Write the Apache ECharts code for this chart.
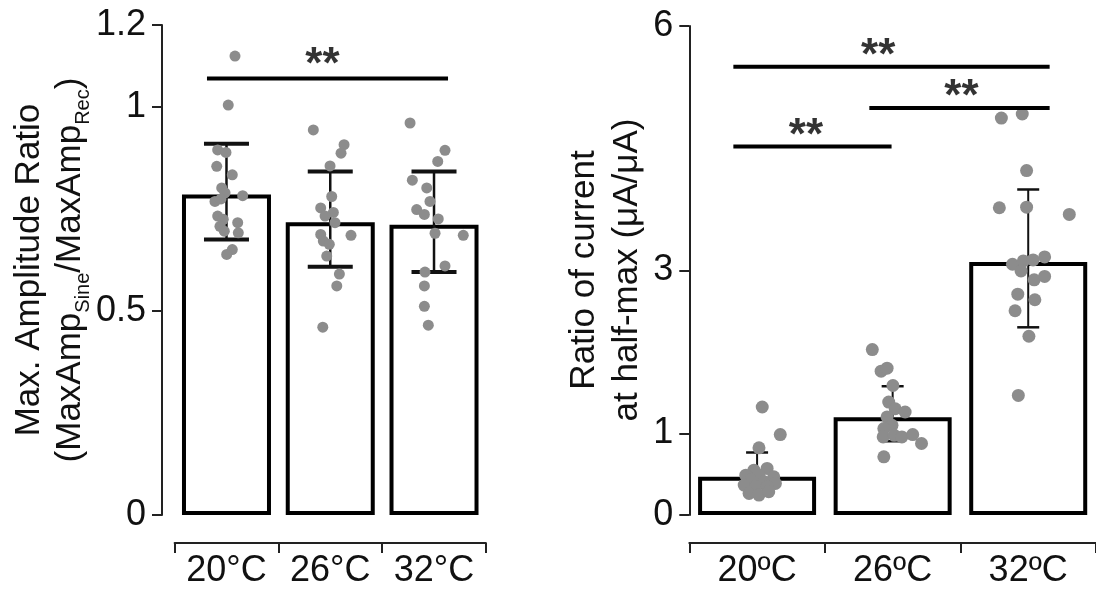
<!DOCTYPE html>
<html>
<head>
<meta charset="utf-8">
<script src="https://cdn.jsdelivr.net/npm/echarts@6/dist/echarts.min.js"></script>
<style>
html,body{margin:0;padding:0;background:#fff;}
#chart{width:1096px;height:589px;}
</style>
</head>
<body>
<div id="chart"></div>
<script>
// ---------- data ----------
const categoriesLeft = ['20°C', '26°C', '32°C'];
const categoriesRight = ['20ºC', '26ºC', '32ºC'];

const ampTicks = [0, 0.5, 1, 1.2];
const ampMean = [0.785, 0.717, 0.711];
const ampLow = [0.675, 0.608, 0.595];
const ampHigh = [0.909, 0.841, 0.841];
// [jitter offset within category, value]
const amp20 = [[0.082,1.124],[0.017,1.004],[-0.085,0.894],[-0.005,0.888],[-0.094,0.854],[0.056,0.833],[-0.046,0.801],[-0.014,0.789],[0.156,0.782],[-0.111,0.768],[-0.053,0.774],[-0.085,0.732],[-0.031,0.724],[-0.063,0.707],[0.108,0.716],[0.114,0.691],[-0.021,0.695],[0.056,0.650],[0.002,0.638]];
const amp26 = [[-0.163,0.943],[0.133,0.907],[0.104,0.886],[-0.002,0.855],[0.014,0.780],[-0.092,0.752],[0.030,0.741],[-0.050,0.732],[0.046,0.716],[-0.092,0.687],[0.200,0.685],[-0.067,0.671],[-0.009,0.663],[-0.034,0.634],[0.088,0.590],[0.063,0.561],[-0.072,0.460]];
const amp32 = [[-0.231,0.960],[0.106,0.893],[0.036,0.866],[-0.209,0.820],[-0.070,0.801],[-0.039,0.768],[-0.167,0.748],[-0.093,0.736],[0.041,0.725],[0.010,0.690],[0.282,0.685],[0.106,0.610],[-0.087,0.595],[-0.093,0.561],[-0.093,0.511],[-0.055,0.465]];

const ratioTicks = [0, 1, 3, 6];
const ratioMean = [0.469, 1.20, 3.105];
const ratioLow = [0.253, 0.905, 2.303];
const ratioHigh = [0.767, 1.58, 3.994];
const ratio20 = [[0.038,1.325],[0.171,0.987],[0.014,0.824],[-0.023,0.55],[0.074,0.571],[-0.083,0.489],[0.014,0.489],[0.123,0.469],[-0.047,0.428],[0.05,0.408],[0.135,0.388],[-0.095,0.367],[-0.01,0.347],[0.074,0.347],[-0.059,0.265],[0.014,0.245],[0.086,0.286]];
const ratio26 = [[-0.150,2.03],[-0.085,1.765],[-0.041,1.802],[0.002,1.589],[-0.029,1.386],[0.019,1.304],[0.092,1.264],[-0.041,1.203],[-0.005,1.100],[-0.065,1.060],[-0.07,0.958],[0.012,0.978],[0.068,0.958],[0.148,0.987],[0.213,0.877],[-0.065,0.714]];
const ratio32 = [[-0.198,4.87],[-0.044,4.92],[-0.012,4.226],[-0.213,3.77],[-0.012,3.777],[0.303,3.688],[-0.116,3.077],[-0.036,3.117],[0.036,3.130],[0.121,3.166],[-0.053,2.995],[0.044,2.885],[0.121,2.927],[-0.077,2.710],[0.049,2.641],[-0.097,2.506],[0.005,2.193],[-0.073,1.467]];

// significance brackets: [from category pos, to category pos, level], label [pos, level]
const sigLeftLines = [[-0.188, 2.135, 1.069]];
const sigLeftLabels = [[0.925, 1.10]];
const sigRightLines = [[-0.175, 2.158, 5.50], [0.828, 2.158, 4.995], [-0.175, 0.992, 4.52]];
const sigRightLabels = [[0.893, 5.62], [1.507, 5.12], [0.36, 4.64]];
const sigText = '**';

// ---------- helpers ----------
const FONT = "'Liberation Sans', Arial, Helvetica, sans-serif";
const INK = '#111';
const DOT = '#8c8c8c';

function dots(groups) {
  const out = [];
  groups.forEach((g, i) => g.forEach(p => out.push([i + p[0], p[1]])));
  return out;
}
function errData(lo, hi) { return lo.map((l, i) => [i, l, hi[i]]); }
function errRender(capW, capLw, stemLw) {
  return function (params, api) {
    const x = api.value(0);
    const a = api.coord([x, api.value(1)]);
    const b = api.coord([x, api.value(2)]);
    return {
      type: 'group',
      children: [
        { type: 'line', shape: { x1: a[0], y1: a[1], x2: b[0], y2: b[1] }, style: { stroke: INK, lineWidth: stemLw } },
        { type: 'line', shape: { x1: a[0] - capW / 2, y1: a[1], x2: a[0] + capW / 2, y2: a[1] }, style: { stroke: INK, lineWidth: capLw } },
        { type: 'line', shape: { x1: b[0] - capW / 2, y1: b[1], x2: b[0] + capW / 2, y2: b[1] }, style: { stroke: INK, lineWidth: capLw } }
      ]
    };
  };
}
function sigLineSeries(lines, xi, yi) {
  return lines.map(l => ({
    type: 'line', xAxisIndex: xi, yAxisIndex: yi, data: [[l[0], l[2]], [l[1], l[2]]],
    symbol: 'none', silent: true, z: 5, animation: false,
    lineStyle: { color: '#000', width: 4 }
  }));
}
function sigLabelSeries(labels, xi, yi) {
  return {
    type: 'scatter', xAxisIndex: xi, yAxisIndex: yi, data: labels, symbolSize: 0, silent: true, z: 6,
    label: { show: true, position: 'inside', formatter: sigText, color: '#000', fontSize: 44, fontWeight: 'bold', fontFamily: FONT }
  };
}

const axisLineStyle = { color: '#222', width: 2 };
function catAxis(cats, gi) {
  return {
    type: 'category', gridIndex: gi, data: cats, position: 'bottom', offset: 28,
    axisLine: { show: true, onZero: false, lineStyle: axisLineStyle },
    axisTick: { show: true, alignWithLabel: false, length: 10, lineStyle: axisLineStyle },
    axisLabel: { color: INK, fontSize: 36, fontFamily: FONT, margin: 10, interval: 0, hideOverlap: false },
    splitLine: { show: false }
  };
}
function hiddenX(gi) {
  return { type: 'value', gridIndex: gi, min: -0.5, max: 2.5, show: false,
    axisLine: { show: false, onZero: false }, splitLine: { show: false } };
}
function valAxis(gi, max, ticks, offset) {
  return {
    type: 'value', gridIndex: gi, min: 0, max: max, offset: offset, position: 'left',
    axisLine: { show: true, onZero: false, lineStyle: axisLineStyle },
    axisTick: { show: true, length: 10, lineStyle: axisLineStyle, customValues: ticks },
    axisLabel: { color: INK, fontSize: 36, fontFamily: FONT, margin: 16, customValues: ticks },
    splitLine: { show: false }
  };
}

const chart = echarts.init(document.getElementById('chart'), null, { renderer: 'canvas' });
const option = {
  animation: false,
  backgroundColor: '#fff',
  grid: [
    { left: 174.6, top: 25, width: 311.3, height: 491.7 },
    { left: 689.3, top: 26, width: 412.7, height: 490.7 }
  ],
  xAxis: [catAxis(categoriesLeft, 0), hiddenX(0), catAxis(categoriesRight, 1), hiddenX(1)],
  yAxis: [valAxis(0, 1.2, ampTicks, 12.6), valAxis(1, 6, ratioTicks, 0)],
  graphic: [
    {
      type: 'text', x: 50, y: 270, rotation: Math.PI / 2,
      style: {
        text: '{n|Max. Amplitude Ratio}\n{n|(MaxAmp}{s|Sine}{n|/MaxAmp}{s|Rec}{n|)}',
        align: 'center', verticalAlign: 'middle', fill: INK,
        rich: {
          n: { fontSize: 35, fontFamily: FONT, lineHeight: 41, fill: INK },
          s: { fontSize: 20, fontFamily: FONT, lineHeight: 41, padding: [26, 0, 0, 0], fill: INK }
        }
      }
    },
    {
      type: 'text', x: 606, y: 270, rotation: Math.PI / 2,
      style: {
        text: 'Ratio of current\nat half-max (μA/μA)',
        align: 'center', verticalAlign: 'middle', fill: INK,
        font: '35px ' + FONT, lineHeight: 43
      }
    }
  ],
  series: [
    { type: 'bar', xAxisIndex: 0, yAxisIndex: 0, data: ampMean, barWidth: 89, z: 2, silent: true,
      itemStyle: { color: '#fff', borderColor: '#000', borderWidth: 4 } },
    { type: 'custom', xAxisIndex: 1, yAxisIndex: 0, data: errData(ampLow, ampHigh), z: 3, silent: true,
      encode: { x: 0, y: [1, 2] }, renderItem: errRender(45, 4, 2.5) },
    { type: 'scatter', xAxisIndex: 1, yAxisIndex: 0, data: dots([amp20, amp26, amp32]), symbolSize: 11, z: 4, silent: true,
      itemStyle: { color: DOT, opacity: 1 } },
    ...sigLineSeries(sigLeftLines, 1, 0),
    sigLabelSeries(sigLeftLabels, 1, 0),

    { type: 'bar', xAxisIndex: 2, yAxisIndex: 1, data: ratioMean, barWidth: 118, z: 2, silent: true,
      itemStyle: { color: '#fff', borderColor: '#000', borderWidth: 4 } },
    { type: 'custom', xAxisIndex: 3, yAxisIndex: 1, data: errData(ratioLow, ratioHigh), z: 3, silent: true,
      encode: { x: 0, y: [1, 2] }, renderItem: errRender(22, 2.5, 2) },
    { type: 'scatter', xAxisIndex: 3, yAxisIndex: 1, data: dots([ratio20, ratio26, ratio32]), symbolSize: 13, z: 4, silent: true,
      itemStyle: { color: DOT, opacity: 1 } },
    ...sigLineSeries(sigRightLines, 3, 1),
    sigLabelSeries(sigRightLabels, 3, 1)
  ]
};
chart.setOption(option);
</script>
</body>
</html>
